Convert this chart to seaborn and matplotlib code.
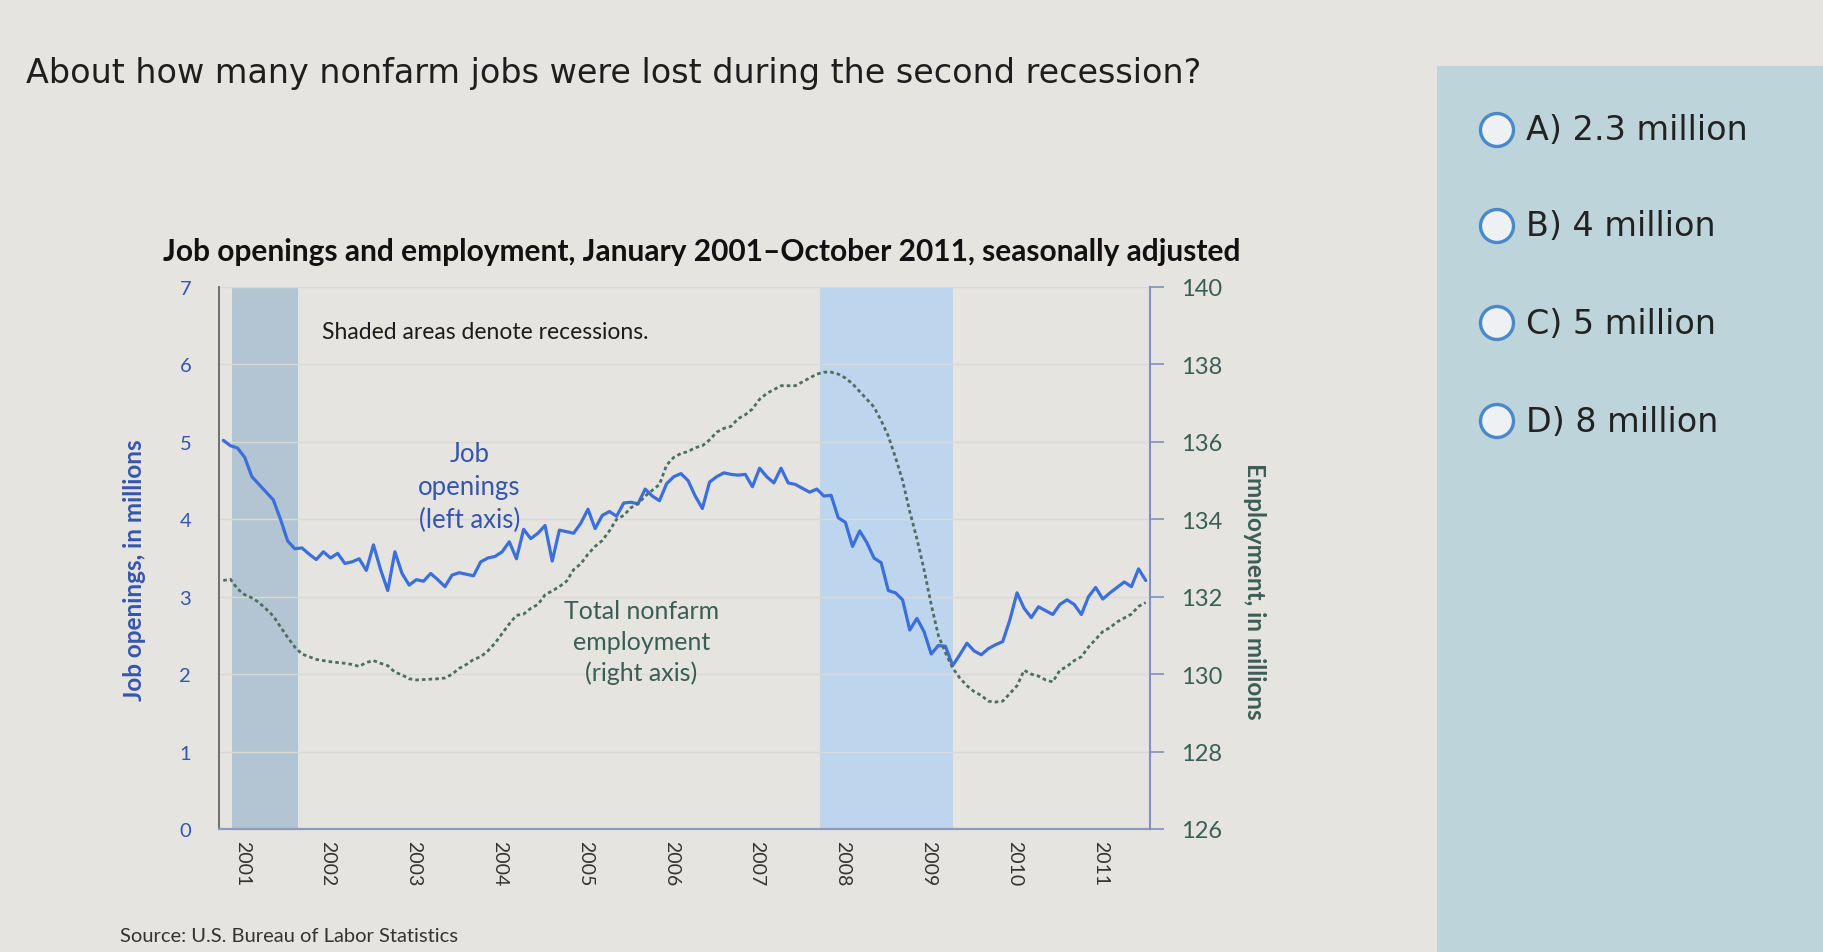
import numpy as np
import pandas as pd
import matplotlib
matplotlib.use("Agg")
import matplotlib.pyplot as plt
import seaborn as sns
from matplotlib.patches import Circle, Rectangle

# ---------------- data (monthly Jan 2001 - Oct 2011) ----------------
job_openings = [
    5.02, 4.95, 4.92, 4.80, 4.55, 4.45, 4.35, 4.25, 4.00, 3.72, 3.62, 3.63,   # 2001
    3.55, 3.48, 3.58, 3.50, 3.56, 3.43, 3.45, 3.49, 3.34, 3.67, 3.35, 3.08,   # 2002
    3.58, 3.30, 3.15, 3.22, 3.20, 3.30, 3.22, 3.13, 3.28, 3.31, 3.29, 3.27,   # 2003
    3.45, 3.50, 3.52, 3.58, 3.71, 3.49, 3.87, 3.75, 3.82, 3.92, 3.46, 3.86,   # 2004
    3.84, 3.82, 3.95, 4.13, 3.88, 4.05, 4.10, 4.04, 4.21, 4.22, 4.20, 4.39,   # 2005
    4.30, 4.24, 4.46, 4.55, 4.59, 4.50, 4.30, 4.14, 4.48, 4.55, 4.60, 4.58,   # 2006
    4.57, 4.58, 4.42, 4.66, 4.55, 4.47, 4.66, 4.47, 4.45, 4.40, 4.35, 4.39,   # 2007
    4.30, 4.31, 4.02, 3.96, 3.65, 3.85, 3.70, 3.50, 3.44, 3.08, 3.05, 2.96,   # 2008
    2.57, 2.72, 2.55, 2.26, 2.37, 2.36, 2.11, 2.25, 2.40, 2.30, 2.25, 2.33,   # 2009
    2.38, 2.42, 2.70, 3.05, 2.85, 2.73, 2.87, 2.82, 2.77, 2.90, 2.96, 2.90,   # 2010
    2.77, 3.00, 3.12, 2.97, 3.05, 3.12, 3.19, 3.13, 3.36, 3.21,               # 2011
]
employment = [
    132.42, 132.45, 132.20, 132.05, 131.97, 131.85, 131.68, 131.50, 131.22, 130.95, 130.70, 130.52,  # 2001
    130.45, 130.38, 130.35, 130.32, 130.30, 130.28, 130.25, 130.20, 130.30, 130.35, 130.28, 130.22,  # 2002
    130.05, 129.98, 129.88, 129.85, 129.86, 129.87, 129.88, 129.90, 130.00, 130.15, 130.25, 130.38,  # 2003
    130.45, 130.60, 130.80, 131.05, 131.30, 131.52, 131.55, 131.70, 131.80, 132.05, 132.15, 132.26,  # 2004
    132.40, 132.70, 132.85, 133.10, 133.30, 133.45, 133.70, 134.00, 134.10, 134.30, 134.40, 134.60,  # 2005
    134.75, 134.90, 135.40, 135.60, 135.70, 135.75, 135.85, 135.90, 136.05, 136.25, 136.35, 136.40,  # 2006
    136.60, 136.70, 136.85, 137.10, 137.25, 137.35, 137.45, 137.45, 137.45, 137.55, 137.65, 137.75,  # 2007
    137.80, 137.80, 137.75, 137.65, 137.50, 137.30, 137.10, 136.90, 136.55, 136.15, 135.60, 135.00,  # 2008
    134.20, 133.50, 132.70, 131.80, 131.00, 130.55, 130.16, 129.90, 129.70, 129.55, 129.45, 129.30,  # 2009
    129.28, 129.30, 129.50, 129.70, 130.10, 130.00, 129.95, 129.85, 129.80, 130.10, 130.20, 130.35,  # 2010
    130.45, 130.70, 130.90, 131.10, 131.20, 131.35, 131.45, 131.55, 131.75, 131.85,                  # 2011
]
year_labels = [str(y) for y in range(2001, 2012)]
left_ticks = [0, 1, 2, 3, 4, 5, 6, 7]
right_ticks = [126, 128, 130, 132, 134, 136, 138, 140]
recession_start = [2001.10, 2007.95]
recession_end = [2001.87, 2009.50]
recession_colors = ["#b3c5d2", "#bdd6ee"]

question = "About how many nonfarm jobs were lost during the second recession?"
options = ["A) 2.3 million", "B) 4 million", "C) 5 million", "D) 8 million"]
chart_title = "Job openings and employment, January 2001\u2013October 2011, seasonally adjusted"

months = np.arange(len(job_openings))
df = pd.DataFrame({
    "year": 2001 + months / 12.0,
    "openings": job_openings,
    "employment": employment,
})

# ---------------- styling ----------------
sns.set_theme(style="white")
BG = "#e5e4e0"
plt.rcParams["font.family"] = ["DejaVu Sans"]

BLUE = "#3b6fdc"
BLUE_TXT = "#3456b0"
GREEN = "#4f6d62"
GREEN_TXT = "#3a5e56"
CHART_FONT = ["Lato", "DejaVu Sans"]

W, H = 1824, 953
fig = plt.figure(figsize=(W / 100, H / 100), dpi=100, facecolor=BG)

def fx(px):
    return px / W

def fy(py):
    return 1 - py / H

# right answer panel
fig.add_artist(Rectangle((1437 / 100, 0), (W - 1437) / 100, (H - 67) / 100,
                         transform=fig.dpi_scale_trans, facecolor="#bdd5da",
                         edgecolor="none", zorder=0))

# question
fig.text(fx(26), fy(74), question, fontsize=24, color="#1e1e1e",
         va="center", ha="left", family=["DejaVu Sans"])

# options
opt_y = [131, 227, 324, 422]
for label, yy in zip(options, opt_y):
    fig.add_artist(Circle((1497 / 100, (H - yy) / 100), 0.165,
                          transform=fig.dpi_scale_trans, facecolor="#eef1f4",
                          edgecolor="#4a88c9", linewidth=2.4, zorder=3))
    fig.text(fx(1526), fy(yy), label, fontsize=24, color="#222222",
             va="center", ha="left", family=["DejaVu Sans"])

# chart title
fig.text(fx(163), fy(252), chart_title, fontsize=21.5, fontweight="bold",
         color="#111111", va="center", ha="left", family=CHART_FONT)

# source
fig.text(fx(120), fy(937), "Source: U.S. Bureau of Labor Statistics", fontsize=14.5,
         color="#333333", va="center", ha="left", family=CHART_FONT)

# ---------------- plot ----------------
ax_left, ax_right, ax_top, ax_bottom = 219, 1150, 288, 830
ax = fig.add_axes([fx(ax_left), fy(ax_bottom), (ax_right - ax_left) / W,
                   (ax_bottom - ax_top) / H])
ax.set_facecolor("none")

for s, e, c in zip(recession_start, recession_end, recession_colors):
    ax.axvspan(s, e, color=c, lw=0, zorder=0)

for t in left_ticks[1:]:
    ax.axhline(t, color="#d9d9d5", lw=1.0, zorder=0.5)

sns.lineplot(data=df, x="year", y="openings", ax=ax, color=BLUE,
             linewidth=2.3, zorder=3)

ax2 = ax.twinx()
sns.lineplot(data=df, x="year", y="employment", ax=ax2, color=GREEN,
             linewidth=2.0, linestyle=(0, (1.3, 1.1)), zorder=3)

x0 = 2001 - 0.6 / 12
x1 = 2001 + 129.6 / 12
ax.set_xlim(x0, x1)
ax.set_ylim(0, 7)
ax2.set_ylim(126, 140)

ax.set_xticks([int(y) + 0.22 for y in year_labels])
ax.set_xticklabels(year_labels, rotation=270, fontsize=14, color="#333333",
                   family=CHART_FONT)
ax.tick_params(axis="x", length=0, pad=8)

ax.set_yticks(left_ticks)
ax.set_yticklabels([str(t) for t in left_ticks], fontsize=14.5, color=BLUE_TXT,
                   family=CHART_FONT)
ax.tick_params(axis="y", length=0, pad=20)

ax2.set_yticks(right_ticks)
ax2.set_yticklabels([str(t) for t in right_ticks], fontsize=17,
                    color=GREEN_TXT, family=CHART_FONT)
ax2.tick_params(axis="y", length=10, width=1.2, color="#8090c0", pad=12,
                direction="out")

ax.set_xlabel("")
ax.set_ylabel("Job openings, in millions", fontsize=17.5, fontweight="bold",
              color=BLUE_TXT, family=CHART_FONT)
ax.yaxis.set_label_coords(-0.078, 0.48)
ax2.set_ylabel("Employment, in millions", fontsize=17.5, fontweight="bold",
               color=GREEN_TXT, family=CHART_FONT, rotation=270, va="center")
ax2.yaxis.set_label_coords(1.112, 0.44)

for a in (ax, ax2):
    a.spines["top"].set_visible(False)
ax.spines["right"].set_visible(False)
ax2.spines["left"].set_visible(False)
ax2.spines["bottom"].set_visible(False)
ax.spines["left"].set_color("#6e6e72")
ax.spines["left"].set_linewidth(1.4)
ax.spines["bottom"].set_color("#8e9bbb")
ax.spines["bottom"].set_linewidth(1.6)
ax2.spines["right"].set_color("#8090c0")
ax2.spines["right"].set_linewidth(1.5)

# annotations
ax.text(2002.15, 6.42, "Shaded areas denote recessions.", fontsize=16.5,
        color="#1c1c1c", ha="left", va="center", family=CHART_FONT)
ax.text(2003.87, 4.42, "Job\nopenings\n(left axis)", fontsize=18.5,
        color=BLUE_TXT, ha="center", va="center", linespacing=1.4,
        family=CHART_FONT)
ax.text(2005.87, 2.42, "Total nonfarm\nemployment\n(right axis)", fontsize=18,
        color=GREEN_TXT, ha="center", va="center", linespacing=1.4,
        family=CHART_FONT)

fig.savefig("out.png", dpi=100, facecolor=BG)
